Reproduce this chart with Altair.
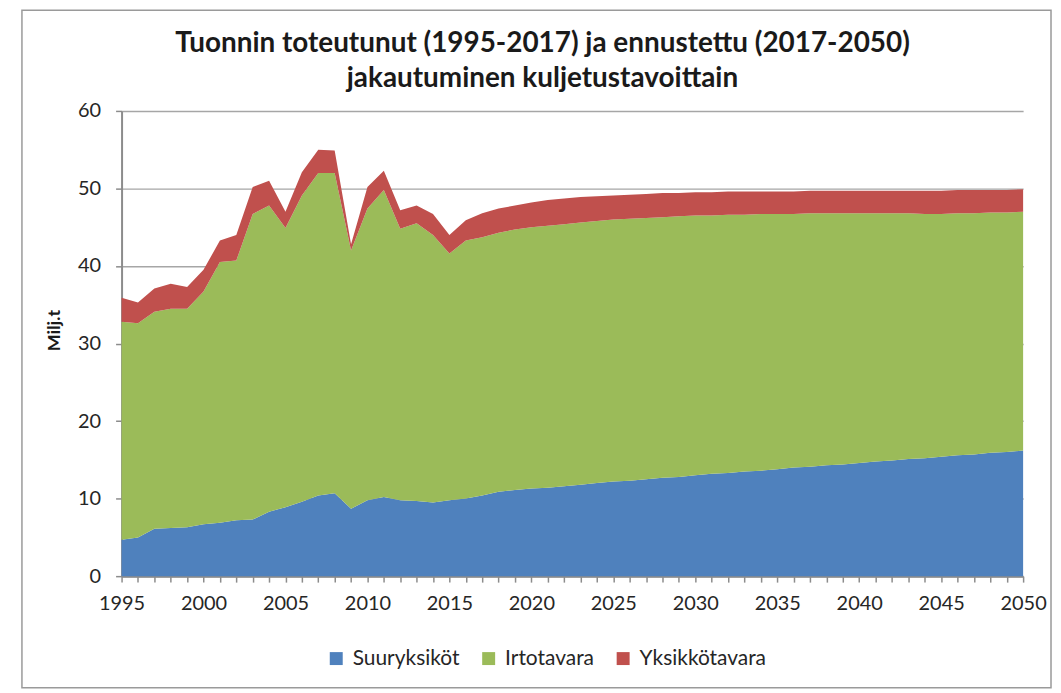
import altair as alt
import pandas as pd

years = list(range(1995, 2051))

suuryksikot = [4.7, 5.0, 6.1, 6.2, 6.3, 6.7, 6.9, 7.2, 7.3, 8.3,
               8.9, 9.6, 10.4, 10.7, 8.7, 9.8, 10.2, 9.8, 9.7, 9.5,
               9.8, 10.0, 10.4, 10.9, 11.1, 11.3, 11.4, 11.6, 11.8, 12.0,
               12.2, 12.3, 12.5, 12.7, 12.8, 13.0, 13.2, 13.3, 13.5, 13.6,
               13.8, 14.0, 14.1, 14.3, 14.4, 14.6, 14.8, 14.9, 15.1, 15.2,
               15.4, 15.6, 15.7, 15.9, 16.0, 16.2]

irtotavara = [28.1, 27.6, 28.0, 28.3, 28.2, 30.0, 33.6, 33.5, 39.4, 39.5,
              36.0, 39.5, 41.6, 41.3, 33.3, 37.6, 39.6, 35.0, 35.8, 34.5,
              31.8, 33.3, 33.3, 33.4, 33.6, 33.7, 33.8, 33.8, 33.8, 33.8,
              33.8, 33.8, 33.7, 33.6, 33.6, 33.5, 33.3, 33.3, 33.1, 33.1,
              32.9, 32.7, 32.7, 32.5, 32.4, 32.2, 32.0, 31.9, 31.7, 31.5,
              31.3, 31.2, 31.1, 31.0, 30.9, 30.8]

yksikkotavara = [3.1, 2.7, 3.0, 3.2, 2.8, 2.8, 2.8, 3.3, 3.5, 3.2,
                 2.1, 3.0, 3.0, 2.9, 0.8, 2.8, 2.5, 2.4, 2.3, 2.7,
                 2.4, 2.6, 3.1, 3.1, 3.1, 3.2, 3.3, 3.3, 3.3, 3.2,
                 3.1, 3.1, 3.1, 3.1, 3.0, 3.0, 3.0, 3.0, 3.0, 2.9,
                 2.9, 2.9, 2.9, 2.9, 2.9, 2.9, 2.9, 2.9, 2.9, 3.0,
                 3.0, 3.0, 3.0, 2.9, 2.9, 2.9]

series_names = ["Suuryksiköt", "Irtotavara", "Yksikkötavara"]
series_colors = ["#4F81BD", "#9BBB59", "#C0504D"]
y_ticks = [0, 10, 20, 30, 40, 50, 60]

rows = []
for i, y in enumerate(years):
    for k, (name, vals) in enumerate(zip(series_names, [suuryksikot, irtotavara, yksikkotavara])):
        rows.append({"vuosi": y, "sarja": name, "arvo": vals[i], "jarj": k})
df = pd.DataFrame(rows)

FONT = "Lato"
TXT = "#262626"
W, H = 905, 467

area = alt.Chart(df).mark_area(opacity=1, interpolate="linear").encode(
    x=alt.X("vuosi:Q",
            scale=alt.Scale(domain=[1995, 2050], nice=False, zero=False),
            axis=alt.Axis(values=years, format="d", title=None,
                          labelExpr="datum.value % 5 == 0 ? datum.label : ''",
                          grid=False, tickSize=6, tickColor="#8c8c8c",
                          domainColor="#8c8c8c", domainWidth=2, tickWidth=1.5,
                          labelPadding=11, labelFontSize=20, labelColor=TXT,
                          labelFont=FONT, labelOverlap=False, labelFlush=False)),
    y=alt.Y("arvo:Q", stack="zero",
            scale=alt.Scale(domain=[0, 60], nice=False),
            axis=alt.Axis(values=y_ticks, title="Milj.t", titleFont=FONT,
                          titleFontSize=18, titleFontWeight="bold", titleColor="#1a1a1a",
                          titlePadding=14, titleY=220,
                          grid=True, gridColor="#a6a6a6", gridWidth=1.5,
                          tickSize=6, tickColor="#8c8c8c", tickWidth=1.5,
                          domainColor="#8c8c8c", domainWidth=2,
                          labelPadding=15, labelFontSize=20, labelColor=TXT,
                          labelFont=FONT)),
    color=alt.Color("sarja:N",
                    scale=alt.Scale(domain=series_names, range=series_colors),
                    legend=alt.Legend(title=None, orient="none", direction="horizontal",
                                      legendX=205, legendY=539, symbolType="square",
                                      symbolSize=169, symbolStrokeWidth=0,
                                      labelFontSize=21, labelFont=FONT, labelColor=TXT,
                                      columnPadding=18, labelOffset=6)),
    order=alt.Order("jarj:Q", sort="ascending"),
)

border = alt.Chart(pd.DataFrame({"k": [0]})).mark_rect(
    fill=None, stroke="#9a9a9a", strokeWidth=1.5, clip=False
).encode(
    x=alt.value(-100), x2=alt.value(933), y=alt.value(-101), y2=alt.value(579)
)

chart = alt.layer(border, area).properties(
    width=W, height=H,
    title=alt.TitleParams(
        text=["Tuonnin toteutunut (1995-2017) ja ennustettu (2017-2050)",
              "jakautuminen kuljetustavoittain"],
        font=FONT, fontSize=28, fontWeight="bold", color="#1a1a1a",
        anchor="middle", dx=-30, lineHeight=35, offset=-84),
    padding={"left": 114, "top": 102, "right": 30, "bottom": 120},
    autosize=alt.AutoSizeParams(type="none"),
).configure_view(stroke=None)

chart.save("out.html", embed_options={"renderer": "svg", "actions": False})
